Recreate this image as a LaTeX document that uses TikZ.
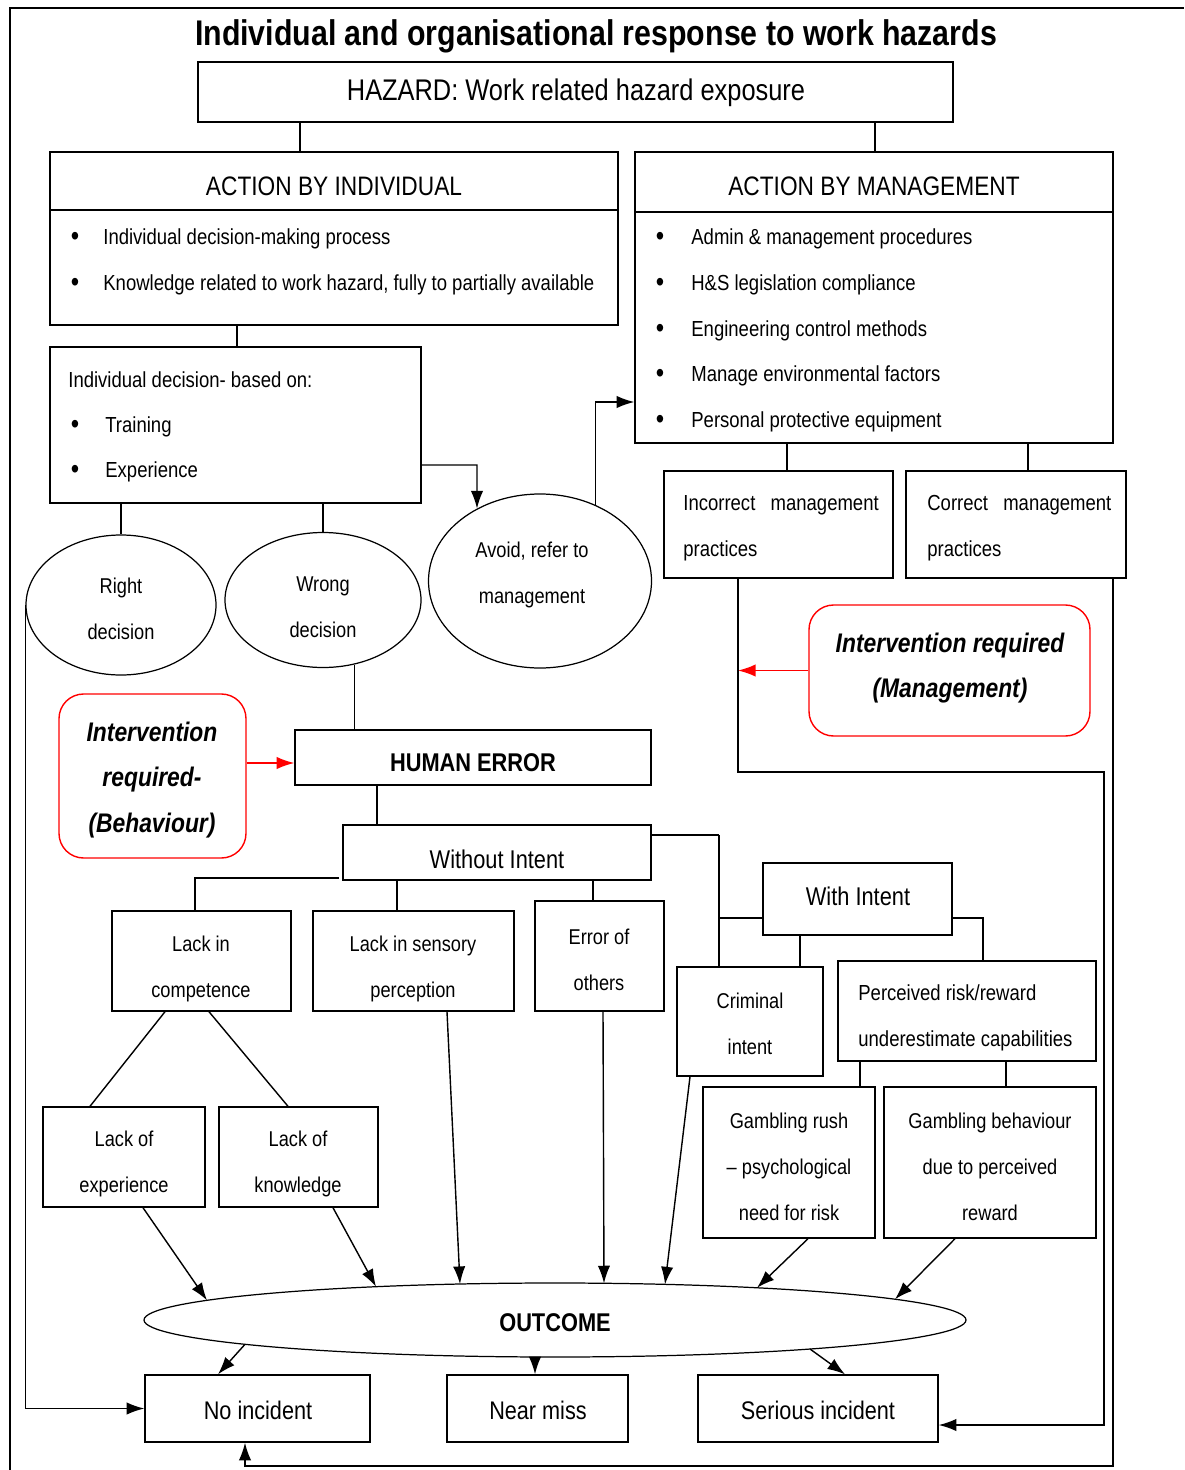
\documentclass[tikz,border=0pt]{standalone}
\usepackage{fontspec}
\setmainfont{Liberation Sans}[FakeStretch=0.85]
\usetikzlibrary{arrows.meta,shapes.geometric,fit}
\begin{document}
\begin{tikzpicture}[x=0.02cm,y=-0.02cm,
  box/.style={draw, line width=0.8pt, inner sep=0pt},
  rbox/.style={draw=red, line width=0.8pt, rounded corners=14pt, inner sep=0pt},
  ell/.style={draw, ellipse, line width=0.7pt, inner sep=0pt},
  esz/.style 2 args={minimum width=#1*0.02cm, minimum height=#2*0.02cm},
  ln/.style={line width=0.8pt},
  arr/.style={line width=0.8pt, -{Latex[length=10pt,width=7pt]}},
  rarr/.style={line width=0.8pt, red, -{Latex[length=10pt,width=7pt]}},
  fb/.style={font=\fontsize{12.2}{26}\selectfont, align=center, inner sep=0pt},
  fl/.style={font=\fontsize{12.4}{26}\selectfont, align=left, anchor=west, inner sep=0pt},
  bul/.style={font=\fontsize{16}{16}\selectfont, inner sep=0pt},
  fh/.style={font=\fontsize{15.2}{17}\selectfont, inner sep=0pt},
  fm/.style={font=\fontsize{14.5}{17}\selectfont, inner sep=0pt},
  fw/.style={font=\fontsize{14.6}{17}\selectfont, inner sep=0pt},
  fi/.style={font=\bfseries\itshape\fontsize{15.3}{26}\selectfont, align=center, inner sep=0pt},
  fbold/.style={font=\bfseries\fontsize{14.6}{17}\selectfont, inner sep=0pt}
]
\useasboundingbox (0,0) rectangle (1184,1470);
\draw[ln] (10,1470) -- (10,8) -- (1184,8);

% title and hazard
\node[font=\bfseries\fontsize{20.3}{22}\selectfont, inner sep=0pt] (title) at (596,36) {Individual and organisational response to work hazards};
\node[box, fit={(198,62) (953,122)}] (haz) {};
\node[font=\fontsize{17}{19}\selectfont, inner sep=0pt] (hazt) at (576,93) {HAZARD: Work related hazard exposure};

% individual
\node[box, fit={(50,152) (618,325)}] (ind) {};
\draw[ln] (ind.west |- 0,210) -- (ind.east |- 0,210);
\node[fh] (indh) at (334,186) {ACTION BY INDIVIDUAL};
\foreach \t [count=\i] in {Individual decision-making process, {Knowledge related to work hazard, fully to partially available}} {
  \node[bul] (ib\i) at (75,{239+46*(\i-1)}) {\textbullet};
  \node[fl] (it\i) at (103,{239+46*(\i-1)}) {\t};
}

% management
\node[box, fit={(635,152) (1113,443)}] (mgmt) {};
\draw[ln] (mgmt.west |- 0,212) -- (mgmt.east |- 0,212);
\node[fh] (mgmth) at (874,186) {ACTION BY MANAGEMENT};
\foreach \t [count=\i] in {Admin \& management procedures, H\&S legislation compliance, Engineering control methods, Manage environmental factors, Personal protective equipment} {
  \node[bul] (mb\i) at (660,{239+45.75*(\i-1)}) {\textbullet};
  \node[fl] (mt\i) at (691,{239+45.75*(\i-1)}) {\t};
}

\draw[ln] (haz.south -| 300,0) -- (ind.north -| 300,0);
\draw[ln] (haz.south -| 875,0) -- (mgmt.north -| 875,0);

% decision box
\node[box, fit={(50,347) (421,503)}] (dec) {};
\node[fl] (dech) at (68,380) {Individual decision- based on:};
\foreach \t [count=\i] in {Training, Experience} {
  \node[bul] (db\i) at (75,{427+45*(\i-1)}) {\textbullet};
  \node[fl] (dt\i) at (105,{427+45*(\i-1)}) {\t};
}
\draw[ln] (ind.south -| 237,0) -- (dec.north -| 237,0);

% ellipses
\node[ell, esz={190}{140}] (right) at (121,605) {};
\node[fb] (rightt) at (121,609) {Right\\decision};
\node[ell, esz={196}{135}] (wrong) at (323,600) {};
\node[fb] (wrongt) at (323,607) {Wrong\\decision};
\node[ell, esz={223}{174}] (avoid) at (540,581) {};
\node[fb] (avoidt) at (532,575) {Avoid, refer to\\management};
\draw[ln] (dec.south -| right.north) -- (right.north);
\draw[ln] (dec.south -| wrong.north) -- (wrong.north);
\draw[arr] (dec.east |- 0,465) -- (477,465) -- (avoid.131);
\draw[arr] (avoid.54) |- (mgmt.west |- 0,402);

% management practices
\node[box, fit={(664,471) (893,578)}] (inc) {};
\node[fl] (inct) at (683,528) {Incorrect\hspace{0.7em}management\\practices};
\node[box, fit={(906,471) (1126,578)}] (cor) {};
\node[fl] (cort) at (927,528) {Correct\hspace{0.7em}management\\practices};
\draw[ln] (mgmt.south -| 787,0) -- (inc.north -| 787,0);
\draw[ln] (mgmt.south -| 1028,0) -- (cor.north -| 1028,0);

\node[rbox, fit={(809,605) (1090,736)}] (imgmt) {};
\node[fi] (imgmtt) at (950,668) {Intervention required\\(Management)};

% human error
\node[box, fit={(295,730) (651,785)}] (herr) {};
\node[fbold] (herrt) at (473,763) {HUMAN ERROR};
\draw[ln] (wrong.296.8) -- (herr.north -| wrong.296.8);
\node[rbox, fit={(59,694) (246,858)}] (ibeh) {};
\node[fi] (ibeht) at (152,780) {Intervention\\required-\\(Behaviour)};
\draw[rarr] (ibeh.east |- 0,763) -- (herr.west |- 0,763);

% intent
\node[box, fit={(343,825) (651,880)}] (wi) {};
\node[fw] (wit) at (497,859) {Without Intent};
\draw[ln] (herr.south -| 377,0) -- (wi.north -| 377,0);
\node[box, fit={(763,863) (952,935)}] (wth) {};
\node[fw] (wtht) at (858,896) {With Intent};

\node[box, fit={(112,911) (291,1011)}] (lic) {};
\node[fb] (lict) at (201,969) {Lack in\\competence};
\node[box, fit={(313,911) (514,1011)}] (lsp) {};
\node[fb] (lspt) at (413,969) {Lack in sensory\\perception};
\node[box, fit={(535,901) (664,1011)}] (eoo) {};
\node[fb] (eoot) at (599,960) {Error of\\others};
\node[box, fit={(677,967) (823,1076)}] (ci) {};
\node[fb] (cit) at (750,1024) {Criminal\\intent};
\node[box, fit={(838,961) (1096,1061)}] (pr) {};
\node[fl] (prt) at (858,1018) {Perceived risk/reward\\underestimate capabilities};
\node[box, fit={(703,1087) (875,1238)}] (gr) {};
\node[fb] (grt) at (789,1167) {Gambling rush\\-- psychological\\need for risk};
\node[box, fit={(884,1087) (1096,1238)}] (gb) {};
\node[fb] (gbt) at (990,1167) {Gambling behaviour\\due to perceived\\reward};
\node[box, fit={(43,1107) (205,1207)}] (lexp) {};
\node[fb] (lexpt) at (124,1164) {Lack of\\experience};
\node[box, fit={(219,1107) (378,1207)}] (lkn) {};
\node[fb] (lknt) at (298,1164) {Lack of\\knowledge};

\draw[ln] (339,878) -- (195,878) -- (lic.north -| 195,0);
\draw[ln] (wi.south -| 397,0) -- (lsp.north -| 397,0);
\draw[ln] (wi.south -| 593,0) -- (eoo.north -| 593,0);
\draw[line width=1.6pt] (wi.east |- 0,835) -- (719,835);
\draw[ln] (719,835) -- (ci.north -| 719,0);
\draw[ln] (719,918) -- (wth.west |- 0,918);
\draw[ln] (wth.south -| 800,0) -- (ci.north -| 800,0);
\draw[ln] (wth.east |- 0,918) -| (pr.north -| 983,0);
\draw[ln] (pr.south -| 860,0) -- (gr.north -| 860,0);
\draw[ln] (pr.south -| 1006,0) -- (gb.north -| 1006,0);
\draw[ln] (lic.south -| 165,0) -- (lexp.north -| 90,0);
\draw[ln] (lic.south -| 209,0) -- (lkn.north -| 288,0);

% outcome
\node[ell, esz={822}{74}] (out) at (555,1320) {};
\node[fbold] (outt) at (555,1323) {OUTCOME};
% points on the outcome ellipse border
\coordinate (o1) at (207,1300.3);
\coordinate (o2) at (376,1286.7);
\coordinate (o3) at (460,1284);
\coordinate (o4) at (604,1283.3);
\coordinate (o5) at (665,1284.4);
\coordinate (o6) at (757,1287.8);
\coordinate (o7) at (895,1299.2);
\coordinate (oa) at (245,1344.3);
\coordinate (ob) at (535,1357);
\coordinate (oc) at (810,1349);
\draw[arr] (lexp.south -| 143,0) -- (o1);
\draw[arr] (lkn.south -| 333,0) -- (o2);
\draw[arr] (lsp.south -| 447,0) -- (o3);
\draw[arr] (eoo.south -| 603,0) -- (o4);
\draw[arr] (ci.south -| 690,0) -- (o5);
\draw[arr] (gr.south -| 808,0) -- (o6);
\draw[arr] (gb.south -| 955,0) -- (o7);

\node[box, fit={(145,1375) (370,1442)}] (noinc) {};
\node[fm] (noinct) at (258,1410) {No incident};
\node[box, fit={(447,1375) (628,1442)}] (near) {};
\node[fm] (neart) at (538,1410) {Near miss};
\node[box, fit={(698,1375) (938,1442)}] (ser) {};
\node[fm] (sert) at (818,1410) {Serious incident};
\draw[arr] (oa) -- (noinc.north -| 218,0);
\draw[arr] (ob) -- (near.north -| 535,0);
\draw[arr] (oc) -- (ser.north -| 845,0);

% feedback lines
\draw[arr] (right.west) |- (noinc.west);
\draw[rarr] (imgmt.west) -- (imgmt.west -| 738,0);
\draw[arr] (inc.south -| 738,0) -- (738,772) -- (1104,772) -- (1104,1425) -- (ser.east |- 0,1425);
\draw[arr] (cor.south -| 1113,0) -- (1113,1466) -| (noinc.south -| 245,0);
\end{tikzpicture}
\end{document}
